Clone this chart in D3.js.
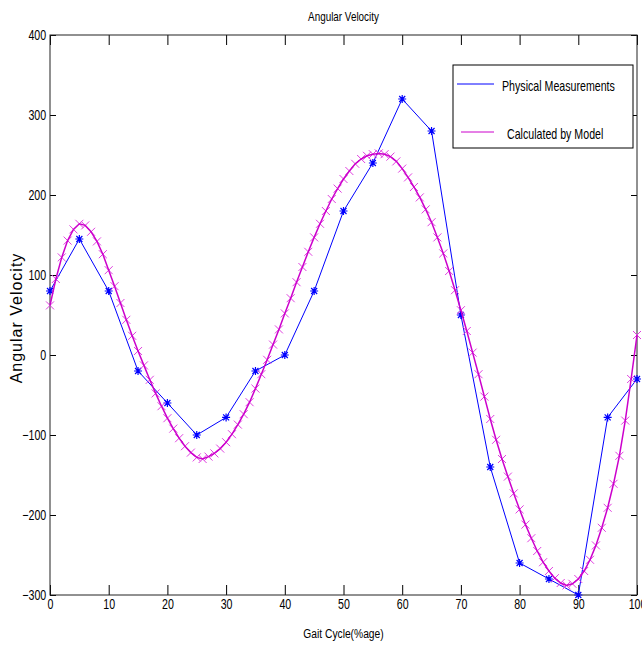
<!DOCTYPE html>
<html>
<head>
<meta charset="utf-8">
<script src="https://cdn.jsdelivr.net/npm/d3@7"></script>
<style>
  body { margin: 0; background: #fff; }
  svg { display: block; }
  .tick text { font-family: "Liberation Sans", Arial, sans-serif; font-size: 14px; fill: #000; }
  .tick line { stroke: #000; }
  .narrow { font-family: "Liberation Sans", Arial, sans-serif; font-size: 13px; }
</style>
</head>
<body>
<svg width="642" height="647"></svg>
<script>
const width = 642
const height = 647
const margins = { top: 35, bottom: 52, left: 50, right: 5 }
const squeeze = 0.76

// measured points, every 5 %
const physX = [0, 5, 10, 15, 20, 25, 30, 35, 40, 45, 50, 55, 60, 65, 70, 75, 80, 85, 90, 95, 100]
const physY = [80, 145, 80, -20, -60, -100, -78, -20, 0, 80, 180, 240, 320, 280, 50, -140, -260, -280, -300, -78, -30]

// model curve, every 1 %
const modelX = d3.range(0, 101)
const modelY = [
  62, 95, 122, 143, 157, 164, 162, 154, 142, 126,
  106, 86, 65, 44, 24, 5, -13, -31, -48, -64,
  -79, -92, -104, -114, -122, -128, -130, -127, -123, -117,
  -109, -99, -87, -74, -59, -42, -24, -6, 13, 32,
  52, 71, 91, 110, 129, 147, 164, 180, 195, 208,
  220, 230, 239, 245, 249, 251, 252, 251, 248, 242,
  233, 222, 210, 197, 182, 166, 147, 127, 105, 81,
  56, 30, 3, -24, -52, -80, -106, -130, -152, -173,
  -193, -212, -229, -245, -259, -270, -279, -285, -288, -286,
  -280, -270, -256, -238, -216, -191, -161, -126, -82, -30,
  25
]

const xTicks = d3.range(0, 101, 10)
const yTicks = d3.range(-300, 401, 100)

const legendNames = ["Physical Measurements", "Calculated by Model"]
const blue = "#0000ff"
const magenta = "#cc00cc"
const magentaMark = "#e040e0"

const svg = d3.select("svg")

const xScale = d3.scaleLinear().domain([0, 100]).range([margins.left, width - margins.right])
const yScale = d3.scaleLinear().domain([-300, 400]).range([height - margins.bottom, margins.top])

// axes, ticks point inward
svg.append("g")
    .attr("transform", `translate(0,${height - margins.bottom})`)
    .call(d3.axisBottom(xScale).tickValues(xTicks).tickSize(-10).tickPadding(4))
    .call(g => g.select(".domain").remove())
    .call(g => g.selectAll("text").attr("transform", `scale(${squeeze},1)`))
svg.append("g")
    .attr("transform", `translate(0,${margins.top})`)
    .call(d3.axisTop(xScale).tickValues(xTicks).tickSize(-10).tickFormat(""))
    .call(g => g.select(".domain").remove())
svg.append("g")
    .attr("transform", `translate(${margins.left},0)`)
    .call(d3.axisLeft(yScale).tickValues(yTicks).tickSize(-6).tickPadding(5))
    .call(g => g.select(".domain").remove())
    .call(g => g.selectAll("text").attr("transform", `scale(${squeeze},1)`))
svg.append("g")
    .attr("transform", `translate(${width - margins.right},0)`)
    .call(d3.axisRight(yScale).tickValues(yTicks).tickSize(-6).tickFormat(""))
    .call(g => g.select(".domain").remove())

svg.append("rect")
    .attr("x", margins.left).attr("y", margins.top)
    .attr("width", width - margins.right - margins.left)
    .attr("height", height - margins.bottom - margins.top)
    .attr("fill", "none").attr("stroke", "#222")

// physical measurements
const physData = physX.map((x, i) => [x, physY[i]])
svg.append("path")
    .datum(physData)
    .attr("fill", "none").attr("stroke", blue).attr("stroke-width", 1)
    .attr("d", d3.line().x(d => xScale(d[0])).y(d => yScale(d[1])))

const star = "M-4,0H4M0,-4V4M-3,-3L3,3M-3,3L3,-3"
svg.append("g").selectAll("path")
    .data(physData).join("path")
    .attr("transform", d => `translate(${xScale(d[0])},${yScale(d[1])})`)
    .attr("d", star)
    .attr("stroke", blue).attr("stroke-width", 1.2).attr("fill", "none")

// model
const modelData = modelX.map((x, i) => [x, modelY[i]])
const cross = "M-4,-4L4,4M-4,4L4,-4"
svg.append("g").selectAll("path")
    .data(modelData).join("path")
    .attr("transform", d => `translate(${xScale(d[0])},${yScale(d[1])})`)
    .attr("d", cross)
    .attr("stroke", magentaMark).attr("stroke-width", 1).attr("fill", "none")
svg.append("path")
    .datum(modelData)
    .attr("fill", "none").attr("stroke", magenta).attr("stroke-width", 1.5)
    .attr("d", d3.line().x(d => xScale(d[0])).y(d => yScale(d[1])))

// narrow text helper
function narrowText(x, y, txt, anchor, size) {
    svg.append("g")
        .attr("transform", `translate(${x},${y})`)
        .append("text")
        .attr("class", "narrow")
        .style("font-size", (size || 13) + "px")
        .attr("transform", `scale(${squeeze},1)`)
        .attr("text-anchor", anchor)
        .attr("dy", "0.35em")
        .text(txt)
}

// legend
svg.append("rect")
    .attr("x", 453).attr("y", 65).attr("width", 180).attr("height", 83)
    .attr("fill", "#fff").attr("stroke", "#000")
legendNames.forEach((name, i) => {
    const y = i === 0 ? 84 : 132
    svg.append("line")
        .attr("x1", i === 0 ? 457 : 461).attr("x2", 494)
        .attr("y1", y).attr("y2", y)
        .attr("stroke", i === 0 ? blue : magenta)
    narrowText(i === 0 ? 502 : 507, y + 2, name, "start", 14)
})

// titles
const midX = (margins.left + width - margins.right) / 2
narrowText(midX, 16, "Angular Velocity", "middle", 13)
narrowText(midX, 633, "Gait Cycle(%age)", "middle", 13.5)
svg.append("text")
    .attr("transform", "translate(22,318) rotate(-90)")
    .attr("text-anchor", "middle")
    .style("font-family", "Liberation Sans, Arial, sans-serif")
    .style("font-size", "16px")
    .style("letter-spacing", "1px")
    .text("Angular Velocity")
</script>
</body>
</html>
